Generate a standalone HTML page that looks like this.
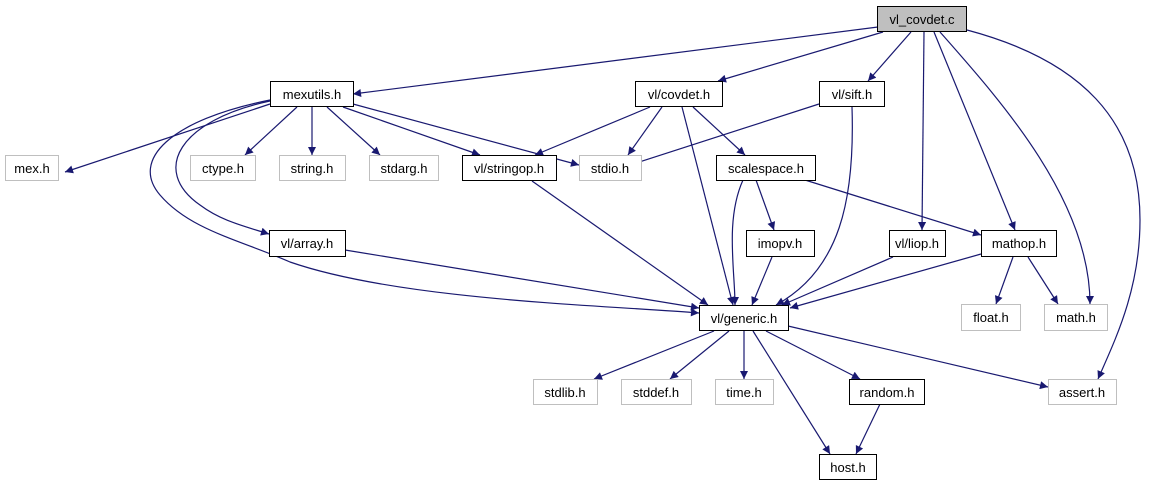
<!DOCTYPE html>
<html><head><meta charset="utf-8"><style>
html,body{margin:0;padding:0;background:#fff;}
svg{display:block;}
text{font-family:"Liberation Sans",sans-serif;font-size:13px;text-anchor:middle;fill:#000;}
</style></head><body>
<svg width="1151" height="485" viewBox="0 0 1151 485" xmlns="http://www.w3.org/2000/svg">
<defs><marker id="a" viewBox="0 0 10 10" refX="10" refY="5" markerWidth="10" markerHeight="8" markerUnits="userSpaceOnUse" orient="auto"><path d="M0,0 L10,5 L0,10 z" fill="#191970"/></marker></defs>
<g fill="none" stroke="#191970" stroke-width="1.2" marker-end="url(#a)">
<path d="M878,27 L353,94"/>
<path d="M883,32 L718,81"/>
<path d="M911,32 L868,81"/>
<path d="M924,32 L922,230"/>
<path d="M934,32 L1015,230"/>
<path d="M940,32 C1000,100 1090,200 1090,304"/>
<path d="M967,30 C1080,60 1140,120 1140,220 C1140,290 1115,340 1098,379"/>
<path d="M270,104 L65,172"/>
<path d="M297,107 L245,155"/>
<path d="M312,107 L312,155"/>
<path d="M327,107 L380,155"/>
<path d="M343,107 L480,155"/>
<path d="M353,104 L579,165"/>
<path d="M270,101 C180,120 150,170 200,205 C220,220 240,225 269,234"/>
<path d="M270,100 C170,120 130,160 160,195 C190,230 240,240 290,262 C400,300 600,305 699,313"/>
<path d="M650,107 L535,155"/>
<path d="M662,107 L628,155"/>
<path d="M693,107 L745,155"/>
<path d="M682,107 L733,305"/>
<path d="M819,104 L630,165"/>
<path d="M852,107 C855,200 840,270 776,305"/>
<path d="M756,180 L774,230"/>
<path d="M743,180 C725,220 735,270 735,305"/>
<path d="M805,180 L981,235"/>
<path d="M532,181 L708,305"/>
<path d="M345,250 L699,308"/>
<path d="M772,257 L752,305"/>
<path d="M893,257 L782,305"/>
<path d="M981,254 L790,308"/>
<path d="M1013,257 L996,304"/>
<path d="M1028,257 L1058,304"/>
<path d="M714,331 L594,379"/>
<path d="M729,331 L670,379"/>
<path d="M744,331 L744,379"/>
<path d="M753,331 L830,454"/>
<path d="M766,331 L860,379"/>
<path d="M788,326 L1048,387"/>
<path d="M880,404 L856,454"/>
</g>
<g stroke-width="1">
<rect x="877.5" y="6.5" width="89" height="25" fill="#bfbfbf" stroke="#000"/>
<rect x="270.5" y="81.5" width="83" height="25" fill="#fff" stroke="#000"/>
<rect x="635.5" y="81.5" width="87" height="25" fill="#fff" stroke="#000"/>
<rect x="819.5" y="81.5" width="65" height="25" fill="#fff" stroke="#000"/>
<rect x="5.5" y="155.5" width="53" height="25" fill="#fff" stroke="#bfbfbf"/>
<rect x="190.5" y="155.5" width="65" height="25" fill="#fff" stroke="#bfbfbf"/>
<rect x="279.5" y="155.5" width="66" height="25" fill="#fff" stroke="#bfbfbf"/>
<rect x="369.5" y="155.5" width="69" height="25" fill="#fff" stroke="#bfbfbf"/>
<rect x="462.5" y="155.5" width="94" height="25" fill="#fff" stroke="#000"/>
<rect x="579.5" y="155.5" width="62" height="25" fill="#fff" stroke="#bfbfbf"/>
<rect x="716.5" y="155.5" width="99" height="25" fill="#fff" stroke="#000"/>
<rect x="269.5" y="230.5" width="76" height="26" fill="#fff" stroke="#000"/>
<rect x="746.5" y="230.5" width="68" height="26" fill="#fff" stroke="#000"/>
<rect x="889.5" y="230.5" width="56" height="26" fill="#fff" stroke="#000"/>
<rect x="981.5" y="230.5" width="75" height="26" fill="#fff" stroke="#000"/>
<rect x="699.5" y="305.5" width="89" height="25" fill="#fff" stroke="#000"/>
<rect x="961.5" y="304.5" width="59" height="26" fill="#fff" stroke="#bfbfbf"/>
<rect x="1044.5" y="304.5" width="63" height="26" fill="#fff" stroke="#bfbfbf"/>
<rect x="533.5" y="379.5" width="64" height="25" fill="#fff" stroke="#bfbfbf"/>
<rect x="621.5" y="379.5" width="70" height="25" fill="#fff" stroke="#bfbfbf"/>
<rect x="715.5" y="379.5" width="58" height="25" fill="#fff" stroke="#bfbfbf"/>
<rect x="849.5" y="379.5" width="75" height="25" fill="#fff" stroke="#000"/>
<rect x="1048.5" y="379.5" width="68" height="25" fill="#fff" stroke="#bfbfbf"/>
<rect x="819.5" y="454.5" width="57" height="25" fill="#fff" stroke="#000"/>
</g>
<text x="922" y="24">vl_covdet.c</text>
<text x="312" y="99">mexutils.h</text>
<text x="679" y="99">vl/covdet.h</text>
<text x="852" y="99">vl/sift.h</text>
<text x="32" y="173">mex.h</text>
<text x="223" y="173">ctype.h</text>
<text x="312" y="173">string.h</text>
<text x="404" y="173">stdarg.h</text>
<text x="509" y="173">vl/stringop.h</text>
<text x="610" y="173">stdio.h</text>
<text x="766" y="173">scalespace.h</text>
<text x="307" y="248">vl/array.h</text>
<text x="780" y="248">imopv.h</text>
<text x="917" y="248">vl/liop.h</text>
<text x="1019" y="248">mathop.h</text>
<text x="744" y="323">vl/generic.h</text>
<text x="991" y="322">float.h</text>
<text x="1076" y="322">math.h</text>
<text x="565" y="397">stdlib.h</text>
<text x="656" y="397">stddef.h</text>
<text x="744" y="397">time.h</text>
<text x="887" y="397">random.h</text>
<text x="1082" y="397">assert.h</text>
<text x="848" y="472">host.h</text>
</svg>
</body></html>
